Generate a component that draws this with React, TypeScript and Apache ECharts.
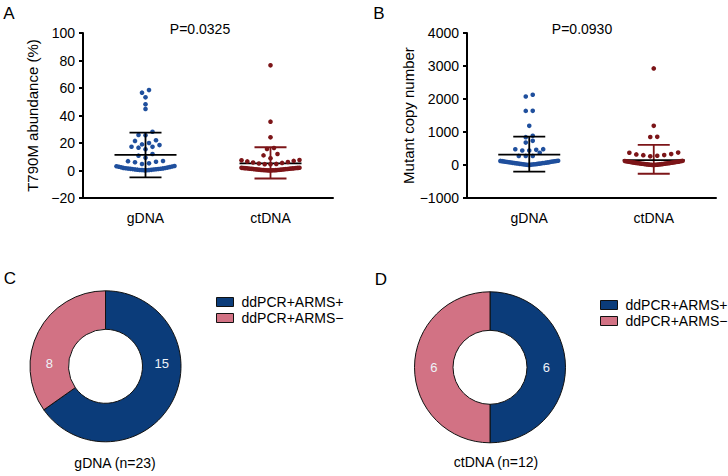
import React, { useEffect, useRef } from "react";
import * as echarts from "echarts";

// ---------- data ----------
const groups = ["gDNA", "ctDNA"];

// Panel A: T790M abundance (%)
const abundanceGDNA = [
  58.5, 56.6, 53.2, 48.1, 44.7, 28.2, 25.8, 25.6, 22.0, 21.5, 20.0, 19.0, 18.5,
  17.3, 17.2, 16.6, 15.4, 12.0, 10.8, 9.3, 6.9, 6.8, 6.4, 6.0, 5.2, 4.7,
  3.3, 3.1, 2.9, 2.7, 2.5, 2.3, 2.1, 1.9, 1.8, 1.6, 1.5, 1.4, 1.3, 1.2, 1.1,
  1.0, 0.9, 0.8, 0.7, 0.6, 0.5, 0.4, 0.3, 0.3, 0.2, 0.1,
];
const abundanceCtDNA = [
  76.5, 35.5, 24.1, 16.4, 15.6, 12.0, 11.0, 8.9,
  7.6, 7.4, 7.0, 6.6, 6.2, 5.8, 5.5, 5.1, 4.8, 4.6, 4.5,
  2.0, 1.95, 1.9, 1.85, 1.8, 1.7, 1.65, 1.6, 1.5, 1.45, 1.4, 1.3, 1.25, 1.2,
  1.1, 1.05, 1.0, 0.9, 0.85, 0.8, 0.7, 0.65, 0.6, 0.5, 0.45, 0.4, 0.35, 0.3,
  0.25, 0.2, 0.15, 0.12, 0.1, 0.07, 0.05,
];
// mean, mean-SD, mean+SD
const abundanceStats = [
  [11.3, -5.0, 27.5],
  [5.2, -5.8, 16.9],
];

// Panel B: mutant copy number
const copiesGDNA = [
  2128, 2077, 1642, 1640, 1187, 883, 844, 732, 680, 480, 478, 460, 440, 438,
  370, 276, 276, 275,
  2, 5, 8, 12, 14, 19, 22, 24, 30, 33, 35, 41, 44, 47, 50, 57, 59, 62, 66, 71,
  75, 78, 83, 86, 90, 97, 99, 105, 108, 113, 117, 121, 124, 130,
];
const copiesCtDNA = [
  2927, 1187, 853, 850, 376, 372, 330, 320, 300, 298, 280, 262,
  1, 3, 4, 7, 9, 11, 13, 16, 18, 20, 23, 26, 28, 31, 34, 37, 39, 42, 46, 49,
  52, 55, 58, 61, 64, 67, 70, 74, 77, 81, 84, 88, 91, 95, 99, 102, 106, 110,
  114, 118, 121, 125,
];
const copiesStats = [
  [316, -200, 860],
  [150, -265, 610],
];

const abundanceAxis = { min: -20, max: 100, step: 20 };
const copiesAxis = { min: -1000, max: 4000, step: 1000 };

// Panels C, D
const pieNames = ["ddPCR+ARMS+", "ddPCR+ARMS\u2212"];
const gDNACounts = [15, 8];
const ctDNACounts = [6, 6];

// ---------- layout / style ----------
const FONT = "'Liberation Sans', Arial, Helvetica, sans-serif";
const BLUE = "#1f4f9d";
const RED = "#7c1518";
const NAVY = "#0b3c7a";
const PINK = "#d27284";
const GRID_H = 165;
const GRID_W = 250;
const PX_PER_X = GRID_W / 2;

function swarm(values: number[], xCenter: number, pxPerUnit: number) {
  const sorted = [...values].sort((a, b) => a - b);
  const bins: number[][] = [];
  let cur: number[] = [];
  let start: number | null = null;
  for (const v of sorted) {
    if (start === null || (v - start) * pxPerUnit > 4.5) {
      if (cur.length) bins.push(cur);
      cur = [v];
      start = v;
    } else cur.push(v);
  }
  if (cur.length) bins.push(cur);
  const pts: number[][] = [];
  for (const bin of bins) {
    const n = bin.length;
    const sp = n > 1 ? Math.min(7, 58 / (n - 1)) : 0;
    const slots: number[] = [];
    for (let i = 0; i < n; i++) slots.push((i - (n - 1) / 2) * sp);
    slots.sort((a, b) => Math.abs(a) - Math.abs(b) || a - b);
    bin.forEach((v, i) => pts.push([xCenter + slots[i] / PX_PER_X, v]));
  }
  return pts;
}

const fmtNeg = (v: number) => (v < 0 ? "\u2212" + Math.abs(v) : String(v));

function errorRender(barColor: string, meanColor: string) {
  return (_params: any, api: any) => {
    const x = api.value(0);
    const pm = api.coord([x, api.value(1)]);
    const pl = api.coord([x, api.value(2)]);
    const ph = api.coord([x, api.value(3)]);
    const bs = { stroke: barColor, lineWidth: 1.8 };
    return {
      type: "group",
      children: [
        { type: "line", shape: { x1: pl[0], y1: pl[1], x2: ph[0], y2: ph[1] }, style: bs },
        { type: "line", shape: { x1: ph[0] - 16, y1: ph[1], x2: ph[0] + 16, y2: ph[1] }, style: bs },
        { type: "line", shape: { x1: pl[0] - 16, y1: pl[1], x2: pl[0] + 16, y2: pl[1] }, style: bs },
        { type: "line", shape: { x1: pm[0] - 31, y1: pm[1], x2: pm[0] + 31, y2: pm[1] }, style: { stroke: meanColor, lineWidth: 1.8 } },
      ],
    };
  };
}

function catAxis(gridIndex: number) {
  return {
    type: "category",
    gridIndex,
    data: groups,
    boundaryGap: true,
    axisLine: { onZero: false, lineStyle: { color: "#000", width: 2 } },
    axisTick: { alignWithLabel: true, length: 5, lineStyle: { color: "#000", width: 2 } },
    axisLabel: { color: "#000", fontSize: 14, fontFamily: FONT, margin: 13 },
    splitLine: { show: false },
  };
}
function hiddenX(gridIndex: number) {
  return { type: "value", gridIndex, min: 0.5, max: 2.5, show: false, splitLine: { show: false } };
}
function valAxis(gridIndex: number, ax: any, name: string, nameGap: number) {
  return {
    type: "value",
    gridIndex,
    min: ax.min,
    max: ax.max,
    interval: ax.step,
    name,
    nameLocation: "middle",
    nameGap,
    nameTextStyle: { color: "#000", fontSize: 15, fontFamily: FONT },
    axisLine: { show: true, onZero: false, lineStyle: { color: "#000", width: 2 } },
    axisTick: { show: true, length: 4, lineStyle: { color: "#000", width: 2 } },
    axisLabel: { color: "#000", fontSize: 14, fontFamily: FONT, margin: 8, formatter: fmtNeg },
    splitLine: { show: false },
  };
}

function scatterSeries(data: number[][], color: string, xAxisIndex: number, yAxisIndex: number) {
  return {
    type: "scatter",
    xAxisIndex,
    yAxisIndex,
    data,
    symbolSize: 4.6,
    itemStyle: { color, opacity: 1 },
    silent: true,
    z: 3,
  };
}
function errSeries(stats: number[], x: number, bar: string, mean: string, xAxisIndex: number, yAxisIndex: number, z: number) {
  return {
    type: "custom",
    xAxisIndex,
    yAxisIndex,
    data: [[x, stats[0], stats[1], stats[2]]],
    encode: { x: 0, y: [1, 2, 3] },
    renderItem: errorRender(bar, mean),
    silent: true,
    z,
  };
}

const PIE_R: [number, number] = [37, 75.5];
const PIE_C_CENTER = [105.5, 366.3];
const PIE_D_CENTER = [490, 367.3];

function pieSeries(center: number[], counts: number[]) {
  return {
    type: "pie",
    center,
    radius: PIE_R,
    startAngle: 90,
    clockwise: true,
    silent: true,
    z: 2,
    label: { show: false },
    labelLine: { show: false },
    emphasis: { disabled: true },
    itemStyle: { borderColor: "#111", borderWidth: 1 },
    data: pieNames.map((n, i) => ({ name: n, value: counts[i], itemStyle: { color: [NAVY, PINK][i] } })),
  };
}

function text(x: number, y: number, t: string, size = 14, fill = "#000") {
  return {
    type: "text",
    x,
    y,
    z: 100,
    silent: true,
    style: { text: t, fontSize: size, fontFamily: FONT, fill, textAlign: "center", textVerticalAlign: "middle" },
  };
}

export default function App() {
  const ref = useRef<HTMLDivElement>(null);
  useEffect(() => {
    if (!ref.current) return;
    const chart = echarts.init(ref.current, undefined, { renderer: "svg" });
    const pyA = GRID_H / (abundanceAxis.max - abundanceAxis.min);
    const pyB = GRID_H / (copiesAxis.max - copiesAxis.min);
    const midR = (PIE_R[0] + PIE_R[1]) / 2;
    const legendBase = {
      orient: "vertical",
      icon: "rect",
      itemWidth: 17,
      itemHeight: 9,
      itemGap: 2,
      selectedMode: false,
      data: pieNames,
      itemStyle: { borderColor: "#111", borderWidth: 1 },
      textStyle: { color: "#000", fontSize: 14, fontFamily: FONT, padding: [0, 0, 0, 3] },
    };
    chart.setOption({
      animation: false,
      grid: [
        { left: 83, top: 33, width: GRID_W, height: GRID_H },
        { left: 467, top: 33, width: 249, height: GRID_H },
      ],
      xAxis: [catAxis(0), hiddenX(0), catAxis(1), hiddenX(1)],
      yAxis: [
        valAxis(0, abundanceAxis, "T790M abundance (%)", 43),
        valAxis(1, copiesAxis, "Mutant copy number", 49),
      ],
      legend: [
        { ...legendBase, left: 211, top: 290 },
        { ...legendBase, left: 595, top: 293 },
      ],
      series: [
        errSeries(abundanceStats[1], 2, RED, "#000", 1, 0, 2),
        scatterSeries(swarm(abundanceGDNA, 1, pyA), BLUE, 1, 0),
        scatterSeries(swarm(abundanceCtDNA, 2, pyA), RED, 1, 0),
        errSeries(abundanceStats[0], 1, "#000", "#000", 1, 0, 5),
        errSeries(copiesStats[1], 2, RED, "#000", 3, 1, 2),
        scatterSeries(swarm(copiesGDNA, 1, pyB), BLUE, 3, 1),
        scatterSeries(swarm(copiesCtDNA, 2, pyB), RED, 3, 1),
        errSeries(copiesStats[0], 1, "#000", "#000", 3, 1, 5),
        pieSeries(PIE_C_CENTER, gDNACounts),
        pieSeries(PIE_D_CENTER, ctDNACounts),
      ],
      graphic: {
        elements: [
          text(9, 13, "A", 17),
          text(379, 13, "B", 17),
          text(10, 278, "C", 17),
          text(381, 279, "D", 17),
          text(200, 29, "P=0.0325"),
          text(582, 29, "P=0.0930"),
          text(115, 463, "gDNA (n=23)"),
          text(496, 462, "ctDNA (n=12)"),
          text(PIE_C_CENTER[0] + midR, PIE_C_CENTER[1] - 3, String(gDNACounts[0]), 13, "#eef2f8"),
          text(PIE_C_CENTER[0] - midR, PIE_C_CENTER[1] - 3, String(gDNACounts[1]), 13, "#eef2f8"),
          text(PIE_D_CENTER[0] + midR, PIE_D_CENTER[1], String(ctDNACounts[0]), 13, "#eef2f8"),
          text(PIE_D_CENTER[0] - midR, PIE_D_CENTER[1], String(ctDNACounts[1]), 13, "#eef2f8"),
        ],
      },
    });
    return () => chart.dispose();
  }, []);
  return (
    <div
      ref={ref}
      style={{ position: "absolute", left: 0, top: 0, width: 728, height: 476, background: "#fff" }}
    />
  );
}
